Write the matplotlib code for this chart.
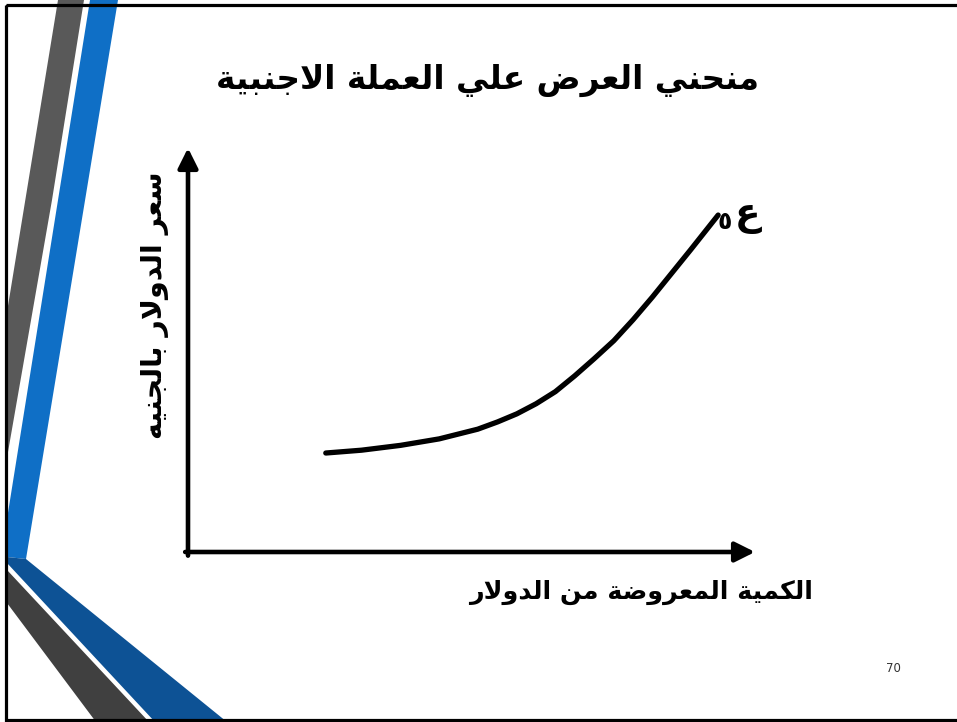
import matplotlib
matplotlib.use("Agg")
import matplotlib.pyplot as plt
from matplotlib.patches import Polygon, Rectangle

# -----------------------------
# Chart data
# -----------------------------
title_text = "منحني العرض علي العملة الاجنبية"
x_label = "الكمية المعروضة من الدولار"
y_label = "سعر الدولار بالجنيه"
curve_label = "ع"
curve_sub = "٥"
page_number = "70"

# supply curve, axis units 0-100
quantity = [24.3, 30.6, 37.5, 44.3, 51.1, 54.6, 58.0, 61.4, 64.8, 68.2,
            71.6, 75.1, 78.5, 81.9, 85.3, 88.7, 93.5]
price = [24.5, 25.2, 26.4, 28.0, 30.4, 32.2, 34.2, 36.7, 39.7, 43.6,
         47.8, 52.3, 57.5, 63.1, 69.0, 74.9, 83.4]


# -----------------------------
# Minimal arabic shaping (matplotlib has no bidi / joining)
# -----------------------------
DUAL = {"ب": 0xFE8F, "ت": 0xFE95, "ج": 0xFE9D, "ح": 0xFEA1, "س": 0xFEB1,
        "ض": 0xFEBD, "ع": 0xFEC9, "ك": 0xFED9, "ل": 0xFEDD, "م": 0xFEE1,
        "ن": 0xFEE5, "ه": 0xFEE9, "ي": 0xFEF1}
RIGHT = {"ا": 0xFE8D, "ة": 0xFE93, "د": 0xFEA9, "ر": 0xFEAD, "و": 0xFEED}


def shape(text):
    out = []
    prev_joins = False
    i = 0
    while i < len(text):
        c = text[i]
        nxt = text[i + 1] if i + 1 < len(text) else ""
        if c == "ل" and nxt == "ا":
            # lam-alef ligature
            out.append(chr(0xFEFC if prev_joins else 0xFEFB))
            prev_joins = False
            i += 2
            continue
        if c in DUAL:
            next_ok = nxt in DUAL or nxt in RIGHT
            base = DUAL[c]
            if prev_joins and next_ok:
                form = base + 3
            elif prev_joins:
                form = base + 1
            elif next_ok:
                form = base + 2
            else:
                form = base
            out.append(chr(form))
            prev_joins = next_ok
        elif c in RIGHT:
            out.append(chr(RIGHT[c] + (1 if prev_joins else 0)))
            prev_joins = False
        else:
            out.append(c)
            prev_joins = False
        i += 1
    return "".join(reversed(out))


plt.rcParams["font.family"] = ["DejaVu Sans"]

fig = plt.figure(figsize=(9.57, 7.22), dpi=100)

# -----------------------------
# Slide background decoration (pixel space)
# -----------------------------
bg = fig.add_axes([0, 0, 1, 1])
bg.set_xlim(0, 957)
bg.set_ylim(722, 0)
bg.axis("off")

bg.add_patch(Polygon([(58, 0), (84, 0), (52, 200), (8, 452), (7, 452), (7, 312)],
                     closed=True, color="#595959", lw=0))
bg.add_patch(Polygon([(90, 0), (118, 0), (26, 559), (7, 557), (7, 519)],
                     closed=True, color="#0F6FC6", lw=0))
bg.add_patch(Polygon([(7, 557), (26, 559), (227, 722), (155, 722), (7, 563)],
                     closed=True, color="#0D5295", lw=0))
bg.add_patch(Polygon([(7, 570), (149, 722), (96, 722), (7, 603)],
                     closed=True, color="#404040", lw=0))
bg.add_patch(Rectangle((6, 4.5), 960, 715.5, fill=False, ec="black", lw=2.3))

# title + page number
bg.text(488, 80, shape(title_text), ha="center", va="center",
        fontsize=23.6, fontweight="bold")
bg.text(893, 668, page_number, ha="center", va="center",
        fontsize=8.5, color="#333333")

# -----------------------------
# Supply curve axes
# -----------------------------
ax = fig.add_axes([188 / 957, (722 - 552) / 722, (755 - 188) / 957, (552 - 148) / 722])
ax.set_xlim(0, 100)
ax.set_ylim(0, 100)
ax.axis("off")

arrow = dict(arrowstyle="-|>,head_length=1.2,head_width=0.6", lw=3.3,
             color="black", shrinkA=0, shrinkB=0)
ax.annotate("", xy=(0, 100), xytext=(0, -0.9), arrowprops=arrow, annotation_clip=False)
ax.annotate("", xy=(100, 0), xytext=(-0.5, 0), arrowprops=arrow, annotation_clip=False)

ax.plot(quantity, price, color="black", lw=3.8, solid_capstyle="round", clip_on=False)

# curve label
ax.annotate(shape(curve_label), xy=(quantity[-1], price[-1]), xytext=(21, -1),
            textcoords="offset points", ha="center", va="center",
            fontsize=27, fontweight="bold", annotation_clip=False)
ax.annotate(curve_sub, xy=(quantity[-1], price[-1]), xytext=(5, -5),
            textcoords="offset points", ha="center", va="center",
            fontsize=17, fontweight="bold", annotation_clip=False)

# axis titles
ax.text(79.9, -10.1, shape(x_label), ha="center", va="center",
        fontsize=18.3, fontweight="bold")
ax.text(-5.8, 61.1, shape(y_label), ha="center", va="center", rotation=90,
        fontsize=20.5, fontweight="bold")

fig.savefig("out.png", dpi=100)
